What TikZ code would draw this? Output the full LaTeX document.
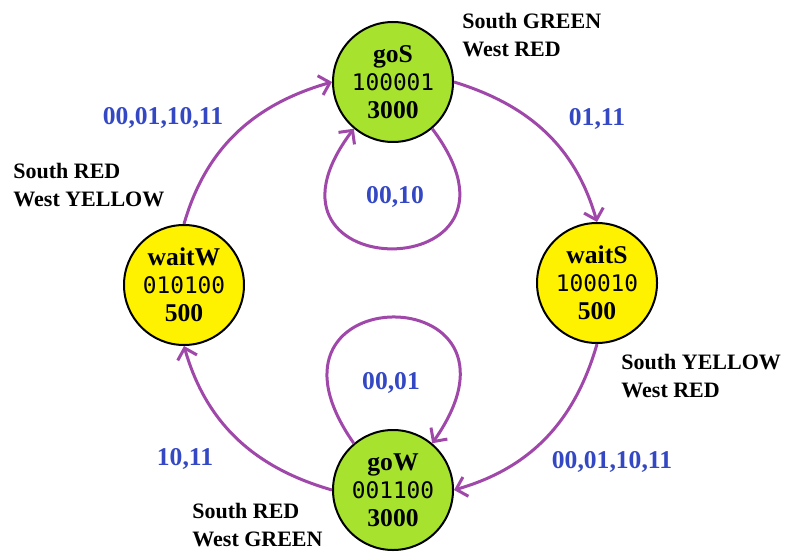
\documentclass[tikz,border=0pt]{standalone}
\usepackage{fontspec}
\setmainfont{Liberation Serif}
\setmonofont{DejaVu Sans Mono}
\usetikzlibrary{arrows.meta}
\definecolor{golime}{RGB}{166,226,46}
\definecolor{waityellow}{RGB}{255,242,0}
\definecolor{transpurple}{RGB}{160,72,170}
\definecolor{condblue}{RGB}{52,72,196}
\newcommand\statecode[1]{{\mdseries\ttfamily\fontsize{11.4}{14}\selectfont #1}}
\begin{document}
\begin{tikzpicture} [
  x=0.5pt, y=0.5pt,
  state/.style={circle, draw=black, line width=1pt, minimum size=60pt, inner sep=0pt,
    align=center, font=\bfseries\fontsize{12.8}{14}\selectfont},
  go/.style={state, fill=golime},
  wait/.style={state, fill=waityellow},
  trans/.style={draw=transpurple, line width=1.5pt, -{Straight Barb[length=5pt,width=10pt]}},
  cond/.style={text=condblue, font=\bfseries\fontsize{12.8}{14}\selectfont},
  lights/.style={align=left, anchor=west, inner sep=0pt, font=\bfseries\fontsize{11}{14.25}\selectfont}]
\useasboundingbox (0,0) rectangle (785,552);
% states
\node[go]   (goS)   at (393,470) {goS\\\statecode{100001}\\3000};
\node[wait] (waitS) at (597,269) {waitS\\\statecode{100010}\\500};
\node[go]   (goW)   at (393,62)  {goW\\\statecode{001100}\\3000};
\node[wait] (waitW) at (184,267) {waitW\\\statecode{010100}\\500};
% lights
\node[lights] (goSlights)   at (462,517) {South GREEN\\West RED};
\node[lights] (waitSlights) at (621,176) {South YELLOW\\West RED};
\node[lights] (goWlights)   at (192,27)  {South RED\\West GREEN};
\node[lights] (waitWlights) at (13,367)  {South RED\\West YELLOW};
% conditions
\node[cond] (goSnext)   at (597,433) {01,11};
\node[cond] (goSstay)   at (395,355) {00,10};
\node[cond] (waitSnext) at (612,90)  {00,01,10,11};
\node[cond] (goWstay)   at (391,169) {00,01};
\node[cond] (goWnext)   at (185,93)  {10,11};
\node[cond] (waitWnext) at (163,434) {00,01,10,11};
% transitions
\draw[trans] (goS.east) to[out=-17,in=106] (waitS.north);
\draw[trans] (waitS.south) to[out=-106,in=16] (goW.east);
\draw[trans] (goW.west) to[out=164,in=-74] (waitW.south);
\draw[trans] (waitW.north) to[out=74,in=-164] (goS.west);
\draw[trans] (goS.-50) .. controls +(-53:200) and +(-127:200) .. (goS.-130);
\draw[trans] (goW.130) .. controls +(125:205) and +(55:205) .. (goW.50);
\end{tikzpicture}
\end{document}
